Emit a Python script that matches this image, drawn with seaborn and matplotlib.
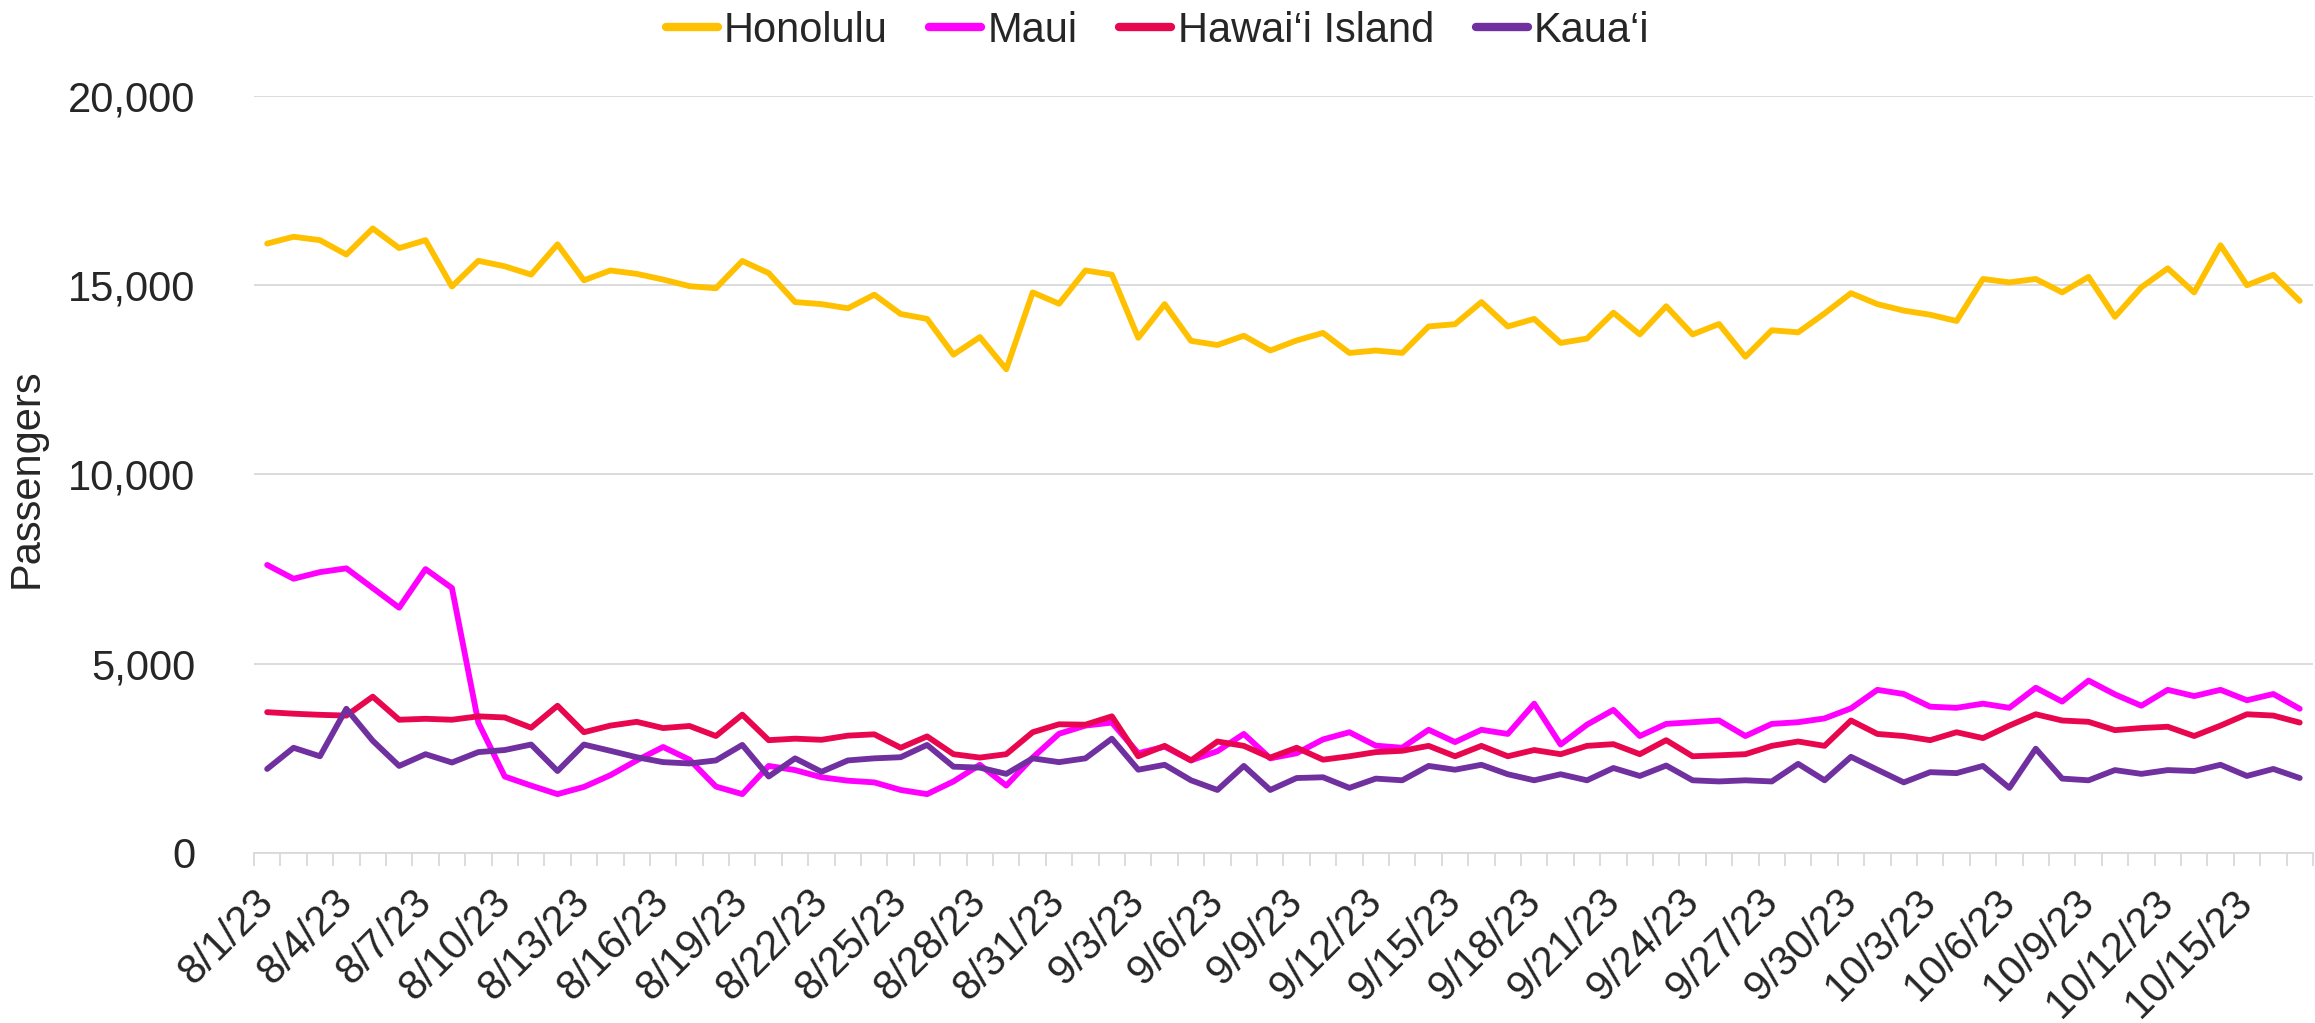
import pandas as pd
import numpy as np
import matplotlib.pyplot as plt
import seaborn as sns
from matplotlib.lines import Line2D
from matplotlib.ticker import FuncFormatter

sns.set_theme(style='white')
plt.rcParams['font.family'] = ['Liberation Sans', 'DejaVu Sans']

# daily arrivals, 8/1/23 - 10/17/23
dates = pd.date_range('2023-08-01', '2023-10-17', freq='D')

honolulu = [16100, 16280, 16190, 15810, 16500, 15980, 16190, 14965, 15645, 15500,
            15280, 16080, 15130, 15390, 15300, 15150, 14975, 14920, 15640, 15320,
            14555, 14500, 14390, 14750, 14240, 14110, 13165, 13630, 12780, 14810,
            14510, 15390, 15280, 13610, 14500, 13530, 13420, 13665, 13275, 13540,
            13740, 13210, 13275, 13210, 13910, 13970, 14555, 13910, 14110, 13475,
            13590, 14275, 13700, 14445, 13700, 13975, 13110, 13810, 13755, 14255,
            14790, 14500, 14330, 14220, 14055, 15165, 15075, 15165, 14810, 15220,
            14165, 14945, 15445, 14810, 16055, 15000, 15275, 14585]
maui = [7610, 7245, 7420, 7520, 7000, 6480, 7500, 7000, 3445, 2020,
        1780, 1555, 1745, 2055, 2445, 2800, 2465, 1755, 1555, 2300,
        2190, 2000, 1910, 1865, 1665, 1555, 1890, 2330, 1780, 2520,
        3150, 3365, 3445, 2635, 2810, 2445, 2690, 3145, 2500, 2635,
        3000, 3190, 2835, 2780, 3255, 2930, 3255, 3145, 3945, 2865,
        3390, 3780, 3090, 3410, 3455, 3500, 3090, 3410, 3455, 3555,
        3820, 4310, 4200, 3865, 3835, 3945, 3835, 4365, 4000, 4555,
        4190, 3890, 4310, 4145, 4310, 4035, 4200, 3810]
hawaii = [3720, 3680, 3650, 3630, 4130, 3520, 3545, 3520, 3610, 3580,
          3310, 3890, 3190, 3365, 3465, 3300, 3355, 3090, 3655, 2980,
          3020, 2990, 3100, 3135, 2780, 3080, 2610, 2520, 2610, 3190,
          3400, 3390, 3610, 2555, 2830, 2445, 2945, 2830, 2520, 2780,
          2465, 2555, 2665, 2700, 2830, 2555, 2830, 2555, 2720, 2610,
          2830, 2875, 2610, 2980, 2555, 2580, 2610, 2830, 2945, 2830,
          3500, 3145, 3090, 2980, 3190, 3035, 3365, 3665, 3500, 3465,
          3245, 3300, 3335, 3090, 3365, 3665, 3630, 3445]
kauai = [2220, 2780, 2555, 3810, 2965, 2300, 2610, 2390, 2665, 2720,
         2865, 2165, 2865, 2700, 2530, 2400, 2365, 2445, 2855, 2020,
         2500, 2145, 2445, 2500, 2530, 2855, 2280, 2255, 2090, 2500,
         2400, 2500, 3020, 2200, 2330, 1920, 1665, 2300, 1665, 1980,
         2000, 1720, 1965, 1920, 2300, 2200, 2330, 2080, 1920, 2080,
         1920, 2245, 2035, 2310, 1920, 1890, 1920, 1890, 2355, 1920,
         2540, 2200, 1865, 2135, 2110, 2300, 1720, 2755, 1965, 1920,
         2190, 2090, 2190, 2165, 2330, 2035, 2220, 1980]

islands = ['Honolulu', 'Maui', 'Hawai\u2018i Island', 'Kaua\u2018i']
colors = ['#FFC000', '#FF00FF', '#E8074F', '#7030A0']

df = pd.DataFrame({'Date': dates, islands[0]: honolulu, islands[1]: maui,
                   islands[2]: hawaii, islands[3]: kauai})
long_df = df.melt(id_vars='Date', var_name='Island', value_name='Passengers')
long_df['Day'] = (long_df['Date'] - dates[0]).dt.days

grid_col = '#D9D9D9'
fs = 30

fig = plt.figure(figsize=(23.15, 10.23), dpi=100)
ax = fig.add_axes([0.1097, 0.1662, 0.8894, 0.74])

sns.lineplot(data=long_df, x='Day', y='Passengers', hue='Island', hue_order=islands,
             palette=colors, linewidth=4.2, ax=ax, legend=False, sort=False)
for line in ax.get_lines():
    line.set_solid_joinstyle('round')
    line.set_solid_capstyle('round')

n = len(dates)
ax.set_xlim(-0.5, n - 0.5)
ax.set_ylim(0, 20000)
ax.set_yticks(np.arange(0, 20001, 5000))
ax.yaxis.set_major_formatter(FuncFormatter(lambda v, p: f'{int(v):,}'))
ax.tick_params(axis='y', length=0, pad=42, labelsize=fs)

ax.grid(axis='y', color=grid_col, linewidth=1.3)
ax.set_axisbelow(True)
for s in ['top', 'right', 'left']:
    ax.spines[s].set_visible(False)
ax.spines['bottom'].set_color(grid_col)
ax.spines['bottom'].set_linewidth(1.3)

# day boundaries get the small tick marks, every 3rd day gets a label
ax.set_xticks(np.arange(-0.5, n, 1), minor=True)
ax.tick_params(axis='x', which='major', length=0, pad=31, labelsize=fs)
ax.tick_params(axis='x', which='minor', length=9.5, width=1.3, color=grid_col,
               direction='out', bottom=True)
tick_pos = np.arange(0, n, 3)
ax.set_xticks(tick_pos, labels=[f'{d.month}/{d.day}/{d:%y}' for d in dates[tick_pos]])
ax.set_xlabel('')

ax.set_ylabel('Passengers', fontsize=fs)
ax.yaxis.set_label_coords(-0.1005, 0.495)

handles = [Line2D([0], [0], color=c, linewidth=6, solid_capstyle='round') for c in colors]
fig.legend(handles, islands, loc='center', bbox_to_anchor=(0.5, 1 - 31 / 1023),
           ncol=4, frameon=False, fontsize=fs, handlelength=1.25,
           handletextpad=0.15, columnspacing=1.0)

fig.canvas.draw()
for lab in ax.get_xticklabels():
    lab.set_rotation(45)
    lab.set_ha('right')
    lab.set_va('center')
    lab.set_rotation_mode('anchor')

plt.savefig('out.png', dpi=100)
